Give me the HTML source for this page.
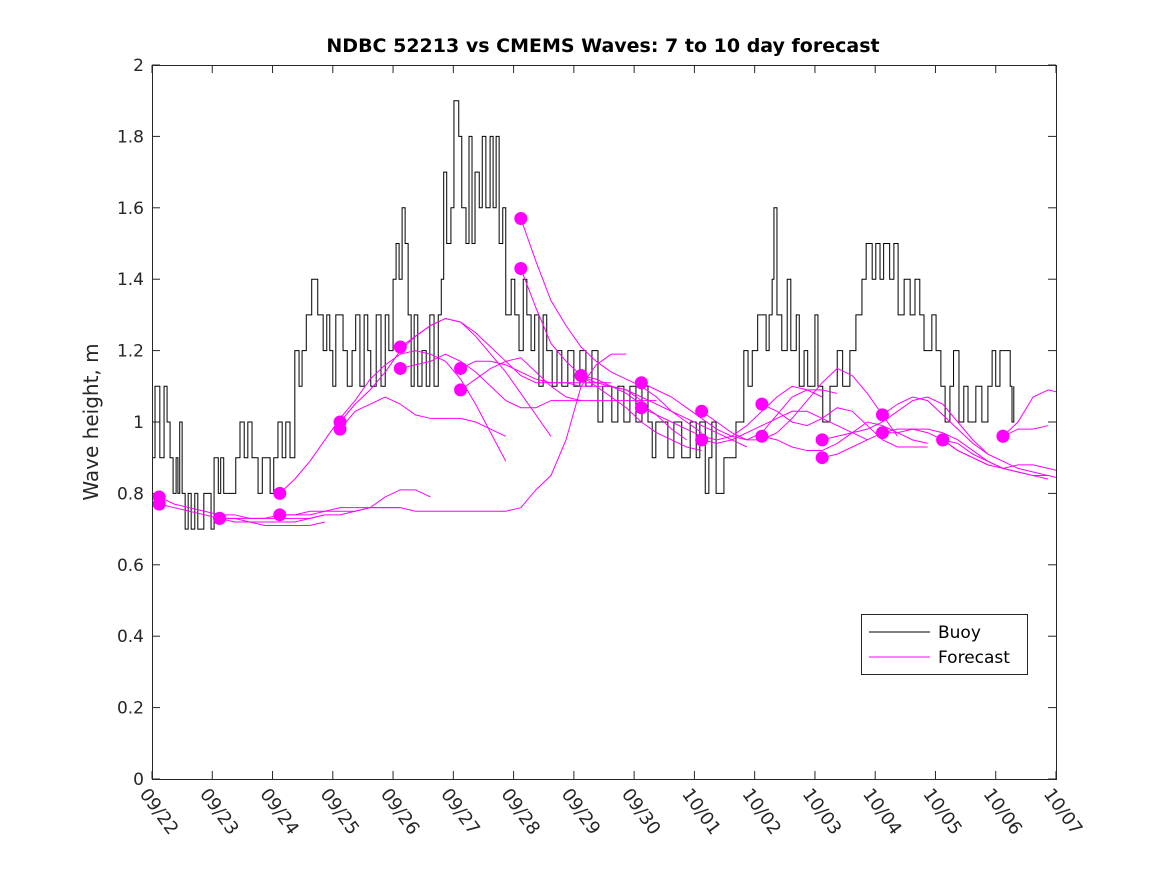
<!DOCTYPE html>
<html><head><meta charset="utf-8"><style>
body{margin:0;background:#fff;}
svg text{font-family:"DejaVu Sans","Liberation Sans",sans-serif;fill:#262626;}
</style></head><body>
<svg id="chart" width="1167" height="875" xmlns="http://www.w3.org/2000/svg">
<defs><clipPath id="plotclip"><rect x="152" y="65" width="904" height="714"/></clipPath></defs>
<rect width="1167" height="875" fill="#fff"/>
<text x="603" y="52" text-anchor="middle" font-size="19" font-weight="bold" style="fill:#000">NDBC 52213 vs CMEMS Waves: 7 to 10 day forecast</text>
<text transform="translate(98,422) rotate(-90)" text-anchor="middle" font-size="20">Wave height, m</text>
<g id="axes"></g>
<g id="series" clip-path="url(#plotclip)"></g>
<rect x="152.5" y="65.5" width="904" height="714" fill="none" stroke="#262626" stroke-width="1"/>
<g>
<rect x="861.5" y="614.5" width="166" height="60" fill="#fff" stroke="#262626"/>
<line x1="869" y1="632" x2="930" y2="632" stroke="#000"/>
<text x="938" y="638" font-size="17" style="fill:#000">Buoy</text>
<line x1="869" y1="657" x2="930" y2="657" stroke="#ff00ff"/>
<text x="938" y="663" font-size="17" style="fill:#000">Forecast</text>
</g>
</svg>
<script>
const xTickLabels=["09/22","09/23","09/24","09/25","09/26","09/27","09/28","09/29","09/30","10/01","10/02","10/03","10/04","10/05","10/06","10/07"];
const yTicks=[0,0.2,0.4,0.6,0.8,1,1.2,1.4,1.6,1.8,2];
const buoyDays=[0,0.05,0.13,0.2,0.25,0.3,0.35,0.4,0.43,0.46,0.5,0.55,0.6,0.65,0.71,0.76,0.86,0.98,1.03,1.1,1.14,1.19,1.39,1.46,1.53,1.59,1.66,1.76,1.83,1.96,2.02,2.09,2.16,2.22,2.29,2.37,2.44,2.49,2.56,2.65,2.75,2.84,2.9,2.95,3.0,3.05,3.17,3.24,3.32,3.38,3.45,3.52,3.58,3.63,3.72,3.8,3.87,3.93,4.0,4.05,4.1,4.15,4.2,4.25,4.3,4.35,4.41,4.48,4.55,4.61,4.68,4.75,4.8,4.84,4.89,4.96,5.01,5.09,5.14,5.21,5.26,5.31,5.36,5.43,5.48,5.54,5.61,5.66,5.71,5.76,5.82,5.87,5.96,6.02,6.09,6.16,6.22,6.29,6.35,6.42,6.49,6.55,6.64,6.72,6.8,6.9,7.0,7.1,7.2,7.3,7.4,7.48,7.63,7.73,7.83,7.93,8.03,8.13,8.23,8.3,8.36,8.56,8.66,8.79,8.93,9.03,9.09,9.18,9.24,9.29,9.36,9.49,9.69,9.82,9.89,9.96,10.05,10.19,10.24,10.29,10.32,10.37,10.45,10.54,10.6,10.69,10.74,10.82,10.88,11.0,11.05,11.13,11.25,11.37,11.46,11.58,11.68,11.78,11.85,11.95,12.01,12.08,12.14,12.24,12.31,12.38,12.48,12.58,12.66,12.74,12.81,12.94,13.01,13.09,13.16,13.24,13.3,13.39,13.47,13.54,13.67,13.77,13.87,13.94,14.0,14.07,14.24,14.27,14.3];
const buoyHeight=[0.9,1.1,0.9,1.1,1.0,0.9,0.8,0.9,0.8,1.0,0.8,0.7,0.8,0.7,0.8,0.7,0.8,0.7,0.9,0.8,0.9,0.8,0.9,1.0,0.9,1.0,0.9,0.8,0.9,0.8,0.9,1.0,0.9,1.0,0.9,1.2,1.1,1.2,1.3,1.4,1.3,1.2,1.3,1.2,1.1,1.3,1.2,1.1,1.2,1.3,1.1,1.3,1.2,1.1,1.3,1.1,1.3,1.2,1.4,1.5,1.4,1.6,1.5,1.3,1.1,1.3,1.1,1.2,1.1,1.3,1.1,1.3,1.4,1.7,1.5,1.6,1.9,1.8,1.6,1.5,1.8,1.5,1.7,1.6,1.8,1.6,1.8,1.6,1.8,1.5,1.6,1.3,1.4,1.3,1.2,1.4,1.3,1.2,1.3,1.1,1.3,1.2,1.1,1.2,1.1,1.2,1.1,1.2,1.1,1.2,1.0,1.1,1.0,1.1,1.0,1.1,1.0,1.1,1.0,0.9,1.0,0.9,1.0,0.9,1.0,0.9,1.0,0.8,0.9,1.0,0.8,0.9,1.0,1.2,1.1,1.2,1.3,1.2,1.3,1.4,1.6,1.3,1.2,1.4,1.2,1.3,1.1,1.2,1.1,1.3,1.1,1.0,1.1,1.2,1.1,1.2,1.3,1.4,1.5,1.4,1.5,1.4,1.5,1.4,1.5,1.3,1.4,1.3,1.4,1.3,1.2,1.3,1.2,1.1,1.0,1.1,1.2,1.0,1.1,1.0,1.1,1.0,1.1,1.2,1.1,1.2,1.1,1.0,1.1];
const forecastStart=[0.12,0.12,1.12,1.12,2.12,2.12,3.12,3.12,4.12,4.12,5.12,5.12,6.12,6.12,7.12,7.12,8.12,8.12,9.12,9.12,10.12,10.12,11.12,11.12,12.12,12.12,13.12,13.12,14.12,14.12];
const forecastStep=0.25;
const forecastValues=[
[0.79,0.77,0.76,0.75,0.74,0.74,0.73,0.73,0.73,0.73,0.73,0.74],
[0.77,0.76,0.75,0.74,0.73,0.72,0.72,0.71,0.71,0.71,0.71,0.72],
[0.73,0.73,0.72,0.72,0.72,0.72,0.73,0.74,0.74,0.75,0.76,0.79,0.81,0.81,0.79],
[0.73,0.73,0.73,0.73,0.74,0.74,0.74,0.75,0.75,0.75,0.76,0.76,0.76],
[0.80,0.84,0.89,0.95,1.01,1.06,1.12,1.16,1.19,1.2,1.19,1.17,1.12,1.05,0.97,0.89],
[0.74,0.74,0.75,0.75,0.76,0.76,0.76,0.76,0.76,0.75,0.75,0.75,0.75,0.75,0.75,0.75,0.76,0.81,0.85,0.95,1.1,1.16,1.19,1.19],
[1.0,1.05,1.09,1.14,1.2,1.24,1.27,1.29,1.28,1.24,1.19,1.14,1.08,1.02,0.96],
[0.98,1.03,1.05,1.07,1.05,1.02,1.01,1.01,1.01,1.0,0.98,0.96],
[1.21,1.24,1.27,1.29,1.28,1.25,1.21,1.17,1.13,1.11,1.11,1.11,1.11,1.11,1.11],
[1.15,1.16,1.17,1.19,1.17,1.14,1.1,1.06,1.04,1.04,1.06,1.06,1.06],
[1.15,1.17,1.17,1.16,1.14,1.12,1.11,1.11,1.1,1.1,1.1,1.09,1.06],
[1.09,1.12,1.15,1.17,1.18,1.14,1.10,1.07,1.06,1.06,1.06,1.06,1.06,1.06],
[1.57,1.45,1.34,1.27,1.21,1.17,1.14,1.12,1.1,1.07,1.03,1.0,0.97],
[1.43,1.32,1.22,1.17,1.13,1.11,1.1,1.08,1.05,1.02,0.98,0.95],
[1.13,1.12,1.1,1.09,1.07,1.05,1.03,1.01,0.99,0.97,0.95,0.93],
[1.13,1.1,1.07,1.04,1.0,0.97,0.95,0.93,0.92],
[1.11,1.09,1.07,1.04,1.01,0.98,0.96,0.95,0.97,1.02,1.07,1.09,1.09,1.08],
[1.04,1.02,1.0,0.98,0.96,0.95,0.96,0.99,1.03,1.07,1.1,1.09,1.07],
[1.03,1.0,0.97,0.95,0.95,0.97,1.01,1.06,1.11,1.15,1.13,1.08,1.02,0.96],
[0.95,0.94,0.95,0.97,0.99,1.01,1.03,1.03,1.01,0.99,0.97,0.95],
[1.05,1.03,1.0,0.99,1.01,1.04,1.03,0.99,0.95,0.93,0.93,0.93],
[0.96,0.95,0.93,0.92,0.92,0.94,0.97,1.0,0.99,0.97,0.95,0.94],
[0.95,0.96,0.97,0.98,1.0,1.03,1.06,1.07,1.05,1.0,0.95,0.91],
[0.9,0.91,0.93,0.95,0.97,0.98,0.98,0.97,0.95,0.92,0.9,0.88],
[1.02,1.05,1.07,1.06,1.02,0.98,0.94,0.91,0.89,0.87,0.86,0.85],
[0.97,0.97,0.98,0.98,0.97,0.95,0.92,0.89,0.87,0.86,0.85,0.84],
[0.95,0.92,0.9,0.88,0.87,0.88,0.88,0.87,0.86,0.85],
[0.95,0.94,0.91,0.89,0.87,0.86,0.85,0.85,0.84],
[0.96,0.98,0.98,0.99],
[0.96,1.0,1.07,1.09,1.08]];

const NS="http://www.w3.org/2000/svg";
const x0=152,x1=1056,y0=779,y1=65;
function xs(d){return x0+(d/15)*(x1-x0);}
function ys(v){return y0-(v/2)*(y0-y1);}
const axes=document.getElementById('axes'),series=document.getElementById('series');
function mk(tag,attrs,parent){const e=document.createElementNS(NS,tag);for(const k in attrs)e.setAttribute(k,attrs[k]);parent.appendChild(e);return e;}
xTickLabels.forEach((lab,i)=>{
 const x=xs(i);
 const t=mk('line',{x1:x,y1:y0,x2:x,y2:y0-8,stroke:'#262626'},axes);
 
 
 const t2=mk('line',{x1:x,y1:y1,x2:x,y2:y1+8,stroke:'#262626'},axes);
 
 
 const tx=mk('text',{transform:`translate(${x-13},${y0+15}) rotate(54)`,'font-size':'18'},axes);
 tx.textContent=lab;
 
 
});
yTicks.forEach(v=>{
 const y=ys(v);
 const t=mk('line',{x1:x0,y1:y,x2:x0+8,y2:y,stroke:'#262626'},axes);
 
 
 const t2=mk('line',{x1:x1,y1:y,x2:x1-8,y2:y,stroke:'#262626'},axes);
 
 
 const tx=mk('text',{x:x0-8,y:y+6,'text-anchor':'end','font-size':'17'},axes);
 tx.textContent=String(v);
 
 
});
let d='';
buoyDays.forEach((t,i)=>{
 const x=xs(t),y=ys(buoyHeight[i]);
 if(i===0)d+=`M${x},${y}`;else d+=`H${x}V${y}`;
});
const bp=mk('path',{d:d,fill:'none',stroke:'#000','stroke-width':'1'},series);


forecastValues.forEach((vals,k)=>{
 const s=forecastStart[k];
 const pts=vals.map((v,j)=>`${xs(s+j*forecastStep)},${ys(v)}`).join(' ');
 const pl=mk('polyline',{points:pts,fill:'none',stroke:'#ff00ff','stroke-width':'1'},series);
 
 
});
forecastValues.forEach((vals,k)=>{
 const c=mk('circle',{cx:xs(forecastStart[k]),cy:ys(vals[0]),r:6.5,fill:'#ff00ff'},series);
 
 
});
</script>
</body></html>
